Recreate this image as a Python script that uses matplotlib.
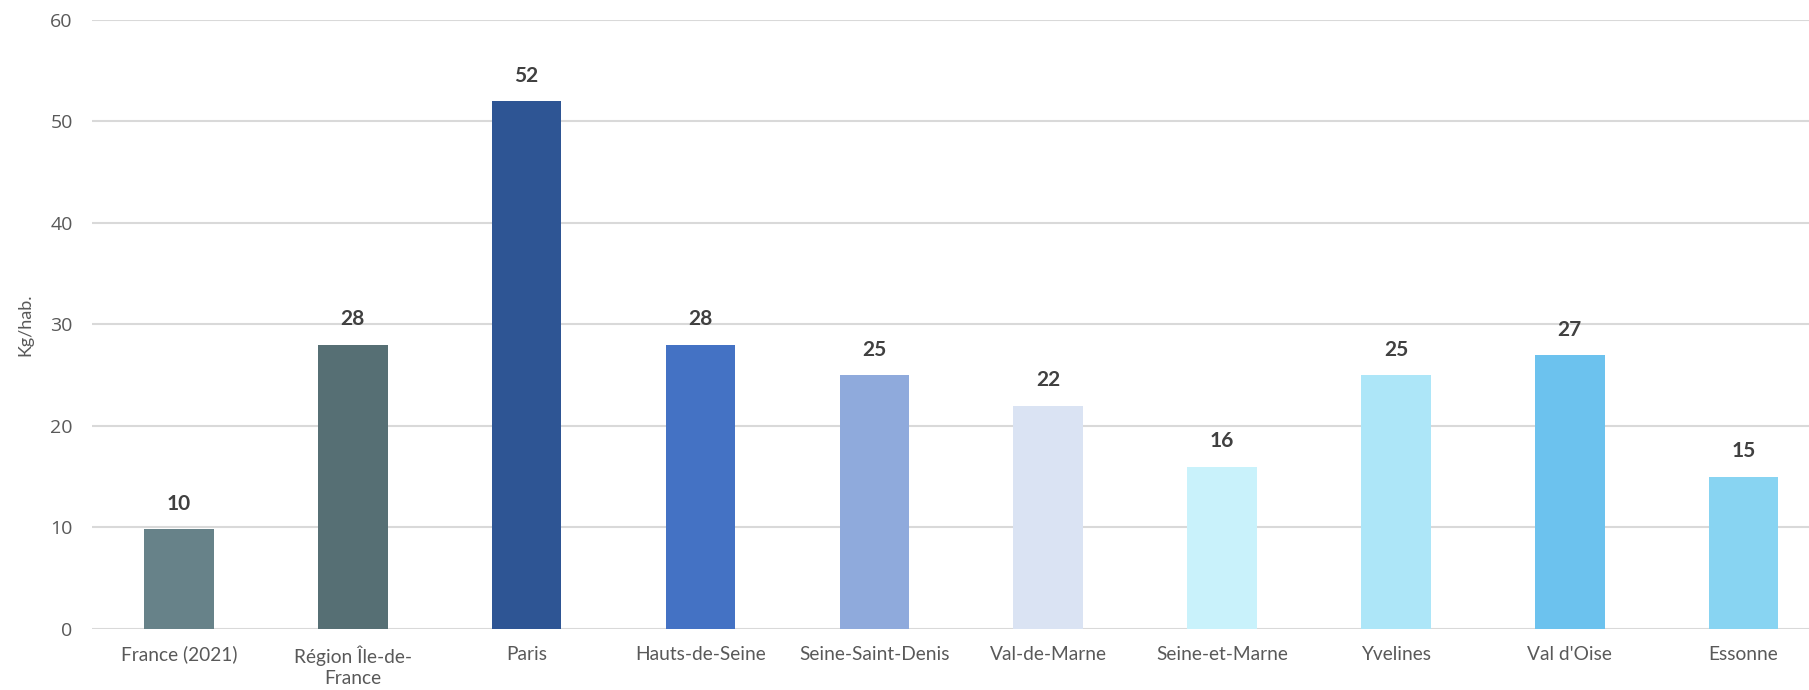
import matplotlib.pyplot as plt
import numpy as np

categories = [
    "France (2021)", "Région Île-de-\nFrance", "Paris", "Hauts-de-Seine",
    "Seine-Saint-Denis", "Val-de-Marne", "Seine-et-Marne", "Yvelines",
    "Val d'Oise", "Essonne",
]
values = [9.8, 28, 52, 28, 25, 22, 16, 25, 27, 15]
colors = [
    "#678289", "#566f74", "#2e5594", "#4472c4", "#8faadc",
    "#dae3f3", "#c9f2fb", "#ade6f8", "#6cc2ee", "#88d4f2",
]
yticks = [0, 10, 20, 30, 40, 50, 60]

plt.rcParams["font.family"] = ["Lato", "DejaVu Sans"]

fig = plt.figure(figsize=(18.09, 6.9), dpi=100)
ax = fig.add_axes([0.0509, 0.0884, 0.961, 0.883])

x = np.arange(len(categories))
bars = ax.bar(x, values, width=0.4, color=colors, zorder=3)
for b, v in zip(bars, values):
    ax.text(b.get_x() + b.get_width() / 2, v + 1.5, f"{v:.0f}",
            ha="center", va="bottom", fontsize=15, fontweight="bold",
            color="#404040")

ax.set_xlim(-0.5, len(categories) - 0.5)
ax.set_ylim(0, 60)
ax.set_yticks(yticks)
ax.set_xticks(x)
ax.set_xticklabels(categories, fontsize=13.8, color="#595959",
                   linespacing=1.3)
ax.tick_params(axis="y", labelsize=14, colors="#595959", length=0, pad=14)
ax.tick_params(axis="x", length=0, pad=12)
for lbl in ax.get_yticklabels():
    lbl.set_family(["Open Sans", "DejaVu Sans"])
ax.grid(axis="y", color="#d9d9d9", linewidth=1.5, zorder=0)
for s in ax.spines.values():
    s.set_visible(False)
ax.set_ylabel("Kg/hab.", fontsize=13, color="#595959", labelpad=12)

fig.savefig("out.png", dpi=100)
plt.close(fig)
